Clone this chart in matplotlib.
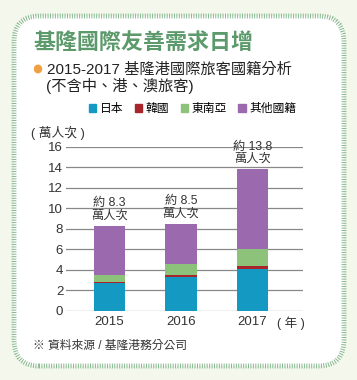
import matplotlib
matplotlib.use('Agg')
import matplotlib.pyplot as plt
from matplotlib.patches import FancyBboxPatch, Patch, Circle

plt.rcParams['font.family'] = ['Liberation Sans', 'Noto Sans CJK TC', 'DejaVu Sans']

# data (萬人次)
years = ['2015', '2016', '2017']
japan = [2.75, 3.28, 4.03]
korea = [0.05, 0.23, 0.33]
sea = [0.71, 1.04, 1.66]
totals = [8.3, 8.5, 13.8]
others = [t - j - k - s for t, j, k, s in zip(totals, japan, korea, sea)]
series_names = ['日本', '韓國', '東南亞', '其他國籍']
colors = ['#1499c2', '#a8262b', '#8dc27a', '#9b69ae']

fig = plt.figure(figsize=(3.57, 3.80), dpi=100)
fig.patch.set_facecolor('#f3f7ec')

# rounded frame
frame = FancyBboxPatch((14 / 357, 14 / 380), 330 / 357, 350 / 380,
                       boxstyle='round,pad=0,rounding_size=0.07',
                       transform=fig.transFigure, facecolor='white',
                       edgecolor='#86b88f', linewidth=3.5,
                       linestyle=(0, (0.2, 0.3)), zorder=-2)
fig.patches.append(frame)

fig.text(33 / 357, 1 - 42 / 380, '基隆國際友善需求日增', color='#5c9a6c',
         fontsize=15.8, fontweight='bold', va='center',
         family=['Noto Sans CJK TC'])
fig.patches.append(Circle((38 / 357, 1 - 69 / 380), 3.5 / 357,
                          transform=fig.transFigure, color='#f0a040'))
fig.text(47 / 357, 1 - 70 / 380, '2015-2017 基隆港國際旅客國籍分析',
         fontsize=11, va='center', color='#222222')
fig.text(46 / 357, 1 - 86 / 380, '(不含中、港、澳旅客)',
         fontsize=11, va='center', color='#222222')
fig.text(31 / 357, 1 - 133 / 380, '( 萬人次 )', fontsize=9.2, va='center',
         color='#333333')

ax = fig.add_axes([66 / 357, 1 - 310.7 / 380, 237 / 357, 164 / 380])
x = range(len(years))
w = 0.44
bottom = [0, 0, 0]
for vals, c in zip([japan, korea, sea, others], colors):
    ax.bar(x, vals, w, bottom=bottom, color=c, zorder=3)
    bottom = [b + v for b, v in zip(bottom, vals)]

for i, t in enumerate(totals):
    ax.annotate(f'約 {t:g}\n萬人次', (i, t), xytext=(0, 3),
                textcoords='offset points', ha='center', va='bottom',
                fontsize=8.8, linespacing=1.05, color='#333333')

ax.set_xlim(-0.61, 2.71)
ax.set_ylim(0, 16)
ax.set_yticks(range(0, 17, 2))
ax.set_xticks(list(x))
ax.set_xticklabels(years)
ax.yaxis.grid(True, color='#888888', linewidth=0.9, zorder=0)
ax.set_axisbelow(True)
for s in ax.spines.values():
    s.set_visible(False)
ax.tick_params(length=0, labelsize=9.5, colors='#333333', pad=2)
ax.tick_params(axis='x', pad=4)
ax.set_facecolor('none')
fig.text(277 / 357, 1 - 323 / 380, '( 年 )', fontsize=9, va='center',
         color='#333333')

handles = [Patch(color=c) for c in colors]
fig.legend(handles, series_names, loc='center right',
           bbox_to_anchor=(302 / 357, 1 - 109 / 380), ncol=4,
           frameon=False, fontsize=8.5, handlelength=0.6, handleheight=0.6,
           handletextpad=0.3, columnspacing=1.0, borderpad=0)

fig.text(33 / 357, 1 - 346 / 380, '※ 資料來源 / 基隆港務分公司',
         fontsize=8.5, va='center', color='#333333')

fig.savefig('out.png', dpi=100, facecolor=fig.get_facecolor())
